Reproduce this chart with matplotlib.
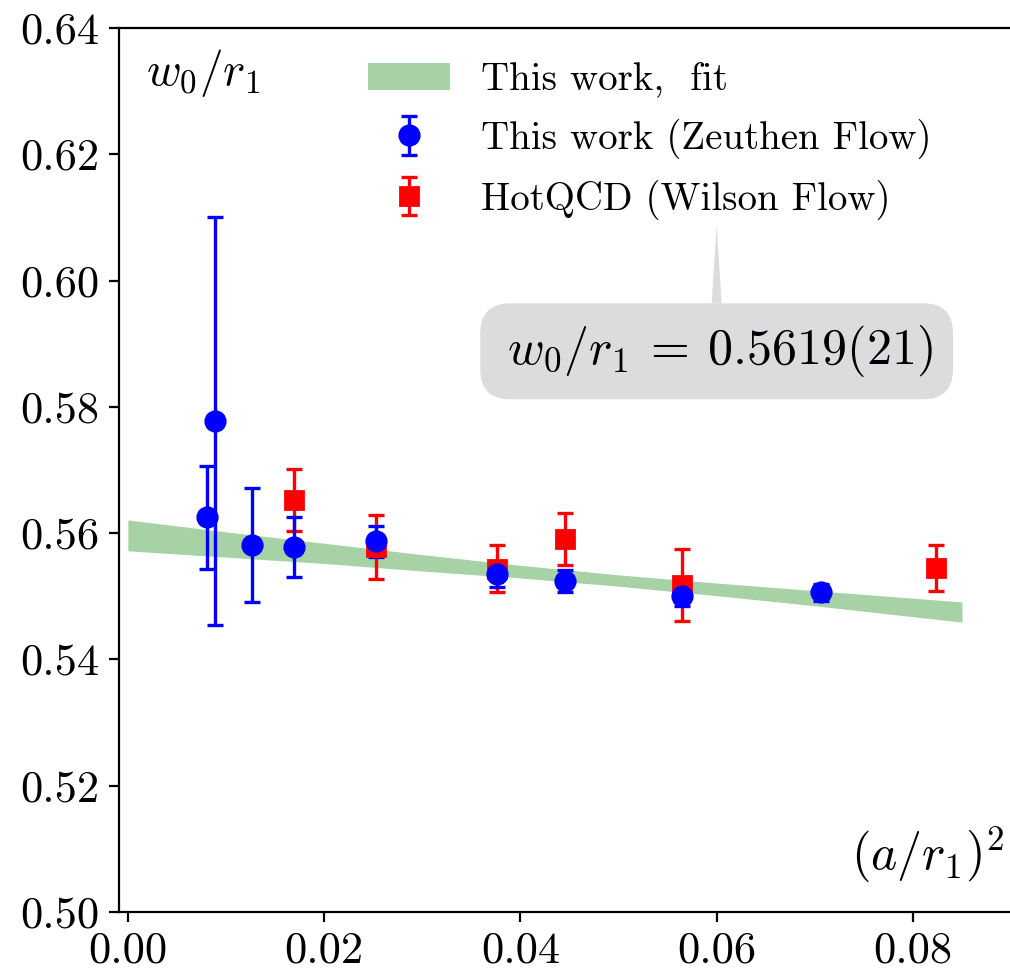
import numpy as np
import matplotlib
matplotlib.use("Agg")
import matplotlib.pyplot as plt
from matplotlib.ticker import FormatStrFormatter

plt.rcParams["font.family"] = "serif"
plt.rcParams["font.serif"] = ["cmr10"]
plt.rcParams["mathtext.fontset"] = "cm"
plt.rcParams["axes.formatter.use_mathtext"] = True

# this work, Zeuthen flow
zeu_x = [0.0081, 0.00885, 0.01263, 0.01691, 0.02524, 0.03757, 0.04454, 0.0565, 0.0706]
zeu_y = [0.5625, 0.5777, 0.5581, 0.5578, 0.5587, 0.5535, 0.5524, 0.5500, 0.5506]
zeu_err = [0.0082, 0.0323, 0.0090, 0.0047, 0.0025, 0.0020, 0.0017, 0.0015, 0.0013]

# HotQCD, Wilson flow
hot_x = [0.01691, 0.02524, 0.03757, 0.04454, 0.0565, 0.0824]
hot_y = [0.5653, 0.5578, 0.5544, 0.5591, 0.5518, 0.5545]
hot_err = [0.0049, 0.0051, 0.0038, 0.0041, 0.0057, 0.0037]

# fit band
band_x = [0.0, 0.01, 0.02, 0.03, 0.04, 0.05, 0.06, 0.07, 0.085]
band_hi = [0.5621, 0.5602, 0.5584, 0.5566, 0.5549, 0.5534, 0.5521, 0.5509, 0.5491]
band_lo = [0.5572, 0.5562, 0.5552, 0.5540, 0.5529, 0.5516, 0.5501, 0.5485, 0.5459]

fit_label = r"$\,w_0/r_1\:=\:0.5619(21)$"

fig = plt.figure(figsize=(5.05, 4.86), dpi=200)
ax = fig.add_axes([119 / 1010, 60 / 972, 896 / 1010, 884 / 972])

band = ax.fill_between(band_x, band_lo, band_hi, color="green", alpha=0.35,
                       linewidth=0, label="This work,  fit")
hot = ax.errorbar(hot_x, hot_y, yerr=hot_err, fmt="s", color="red", ms=6.8,
                  capsize=3, elinewidth=1.2, capthick=1.2,
                  label="HotQCD (Wilson Flow)")
zeu = ax.errorbar(zeu_x, zeu_y, yerr=zeu_err, fmt="o", color="blue", ms=7,
                  capsize=3, elinewidth=1.2, capthick=1.2,
                  label="This work (Zeuthen Flow)")

ax.set_xlim(-0.0009, 0.0904)
ax.set_ylim(0.50, 0.64)
ax.set_xticks([0.0, 0.02, 0.04, 0.06, 0.08])
ax.set_yticks([0.50, 0.52, 0.54, 0.56, 0.58, 0.60, 0.62, 0.64])
ax.xaxis.set_major_formatter(FormatStrFormatter("%.2f"))
ax.yaxis.set_major_formatter(FormatStrFormatter("%.2f"))
ax.tick_params(labelsize=16, length=3.5, width=0.8)

ax.text(0.03, 0.979, r"$w_0/r_1$", transform=ax.transAxes, fontsize=17,
        ha="left", va="top")
ax.text(0.988, 0.03, r"$(a/r_1)^2$", transform=ax.transAxes, fontsize=18,
        ha="right", va="bottom")

ax.legend(handles=[band, zeu, hot], loc="upper left",
          bbox_to_anchor=(0.2605, 0.979), borderaxespad=0, frameon=False,
          fontsize=14, handlelength=2.1, labelspacing=0.53)

ax.annotate(fit_label, xy=(0.0600, 0.6088), xytext=(0.0600, 0.5888),
            fontsize=18, ha="center", va="center",
            bbox=dict(boxstyle="round,pad=0.4,rounding_size=0.6",
                      fc="#dcdcdf", ec="none"),
            arrowprops=dict(arrowstyle="wedge,tail_width=0.2",
                            fc="#dcdcdf", ec="none", shrinkA=0, shrinkB=0))

fig.savefig("out.png", dpi=200)
